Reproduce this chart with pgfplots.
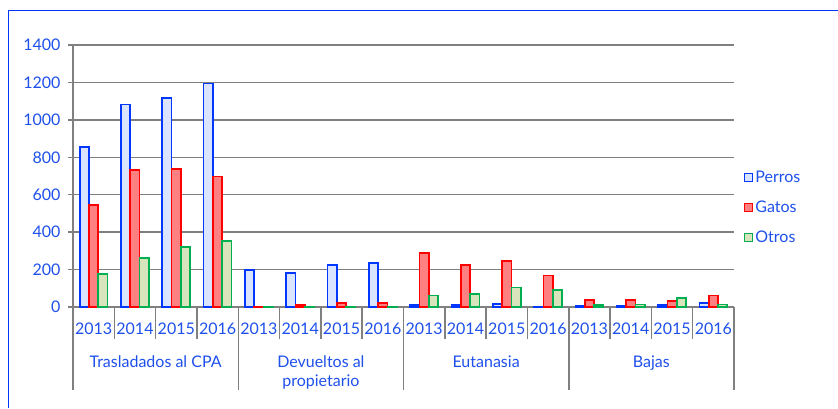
\documentclass[border=0pt]{standalone}
\usepackage{fontspec}
\setmainfont{Lato}
\usepackage{pgfplots}
\pgfplotsset{compat=1.18}
\definecolor{txtblue}{RGB}{30,80,235}
\definecolor{pedge}{RGB}{0,55,255}
\definecolor{pfill}{RGB}{218,228,255}
\definecolor{gedge}{RGB}{255,0,0}
\definecolor{gfill}{RGB}{255,128,128}
\definecolor{oedge}{RGB}{0,176,80}
\definecolor{ofill}{RGB}{216,228,188}
\definecolor{gridgray}{RGB}{128,128,128}
\begin{document}
\begin{tikzpicture}[x=1bp,y=1bp]
\path[use as bounding box] (0,0) rectangle (838,408);
\draw[pedge, line width=1bp] (8,0) -- (8,397) -- (838,397);
\begin{axis}[
  at={(73bp,101bp)}, anchor=south west,
  scale only axis, width=661bp, height=262bp,
  font=\fontsize{16bp}{19bp}\selectfont,
  /pgf/number format/assume math mode=true,
  /pgf/number format/1000 sep={},
  ybar=0pt, bar width=9.3bp,
  xmin=-0.5, xmax=15.5, ymin=0, ymax=1400,
  ytick={0,200,...,1400},
  xtick={0,...,15},
  xticklabels={2013,2014,2015,2016,2013,2014,2015,2016,2013,2014,2015,2016,2013,2014,2015,2016},
  axis x line=bottom, axis y line=left,
  axis line style={gridgray, line width=1.5bp, -},
  ymajorgrids, grid style={gridgray, line width=1.5bp},
  tick align=outside, major tick length=5bp,
  ytick style={gridgray, line width=1.5bp},
  xtick style={draw=none},
  ticklabel style={text=txtblue},
  xticklabel style={anchor=base, yshift=-22bp},
  yticklabel style={anchor=east, xshift=-4bp},
  clip=false,
  legend style={at={(1.01,0.535)}, anchor=north west, draw=none, fill=none,
    text=txtblue, row sep=13bp, font=\fontsize{16bp}{19bp}\selectfont},
  legend cell align=left,
  legend image code/.code={\draw[#1, line width=1.6bp] (0bp,-4bp) rectangle (8bp,4bp);},
]
\addplot[draw=pedge, fill=pfill, line width=1.7bp] coordinates {
(0,856)(1,1082)(2,1116)(3,1194)(4,196)(5,182)(6,225)(7,237)(8,11)(9,11)(10,16)(11,3)(12,7)(13,7)(14,9)(15,20)};
\addplot[draw=gedge, fill=gfill, line width=1.7bp] coordinates {
(0,546)(1,733)(2,738)(3,698)(4,3)(5,12)(6,21)(7,23)(8,289)(9,223)(10,245)(11,168)(12,39)(13,39)(14,32)(15,61)};
\addplot[draw=oedge, fill=ofill, line width=1.7bp] coordinates {
(0,178)(1,262)(2,322)(3,352)(4,1)(5,2)(6,3)(7,3)(8,61)(9,71)(10,105)(11,89)(12,12)(13,14)(14,48)(15,14)};
\legend{Perros,Gatos,Otros}
\draw[gridgray, line width=1.5bp]
  (axis cs:0.5,0) -- ++(0pt,-32bp)
  (axis cs:1.5,0) -- ++(0pt,-32bp)
  (axis cs:2.5,0) -- ++(0pt,-32bp)
  (axis cs:4.5,0) -- ++(0pt,-32bp)
  (axis cs:5.5,0) -- ++(0pt,-32bp)
  (axis cs:6.5,0) -- ++(0pt,-32bp)
  (axis cs:8.5,0) -- ++(0pt,-32bp)
  (axis cs:9.5,0) -- ++(0pt,-32bp)
  (axis cs:10.5,0) -- ++(0pt,-32bp)
  (axis cs:12.5,0) -- ++(0pt,-32bp)
  (axis cs:13.5,0) -- ++(0pt,-32bp)
  (axis cs:14.5,0) -- ++(0pt,-32bp)
  (axis cs:-0.5,0) -- ++(0pt,-83bp)
  (axis cs:3.5,0) -- ++(0pt,-83bp)
  (axis cs:7.5,0) -- ++(0pt,-83bp)
  (axis cs:11.5,0) -- ++(0pt,-83bp)
  (axis cs:15.5,0) -- ++(0pt,-83bp);
\node[anchor=north, align=center, text=txtblue, yshift=-45bp] at (axis cs:1.5,0) {Trasladados al CPA};
\node[anchor=north, align=center, text=txtblue, yshift=-45bp] at (axis cs:5.5,0) {Devueltos al\\propietario};
\node[anchor=north, align=center, text=txtblue, yshift=-45bp] at (axis cs:9.5,0) {Eutanasia};
\node[anchor=north, align=center, text=txtblue, yshift=-45bp] at (axis cs:13.5,0) {Bajas};
\end{axis}
\end{tikzpicture}
\end{document}
